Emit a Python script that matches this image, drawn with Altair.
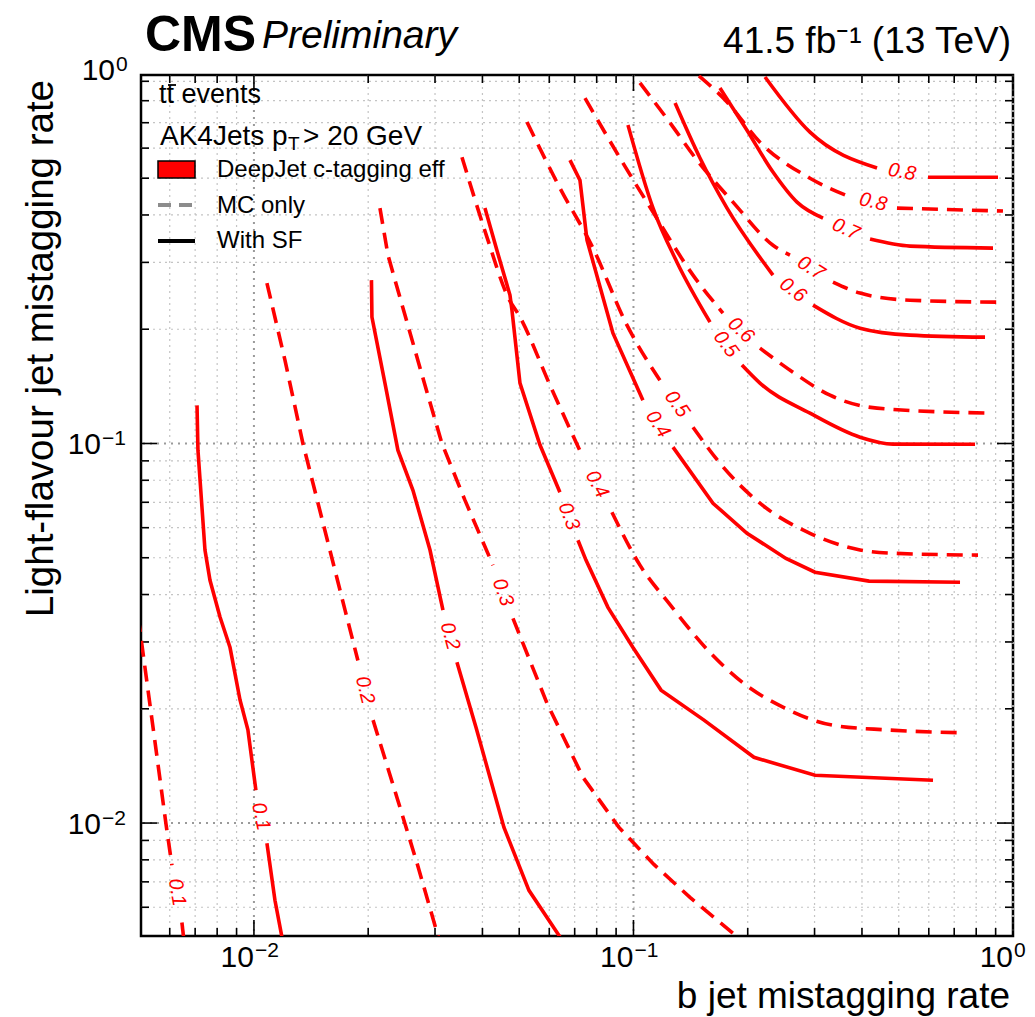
import altair as alt
import pandas as pd

W, H = 872, 861
FONT = "Liberation Sans"
RED = "#ff0000"

# ---------------- axes ----------------
X_DOMAIN = [0.00504, 1.0]
Y_DOMAIN = [0.00504, 0.935]
X_MAJOR = [0.01, 0.1, 1.0]
X_MAJOR_SUP = ["−2", "−1", "0"]
Y_MAJOR = [0.01, 0.1]
Y_MAJOR_SUP = ["−2", "−1"]
Y_TOP_SUP = "0"
MINOR = [0.006, 0.007, 0.008, 0.009,
         0.02, 0.03, 0.04, 0.05, 0.06, 0.07, 0.08, 0.09,
         0.2, 0.3, 0.4, 0.5, 0.6, 0.7, 0.8, 0.9]
X_TITLE = "b jet mistagging rate"
Y_TITLE = "Light-flavour jet mistagging rate"

# ---------------- contours (x = b mistag, y = light mistag); None = label gap ----------------
MC_01 = [[0.00495, 0.0351], [0.00507, 0.0294], [0.00548, 0.0165], [0.00586, 0.0100], [0.00608, 0.00774],
         None, [0.00646, 0.00547], [0.00654, 0.0049]]
SF_01 = [[0.00708, 0.126], [0.00712, 0.096], [0.00743, 0.0524], [0.00766, 0.0436], [0.00814, 0.0349],
         [0.00865, 0.0290], [0.00919, 0.0211], [0.00964, 0.0176], [0.01012, 0.0122],
         None, [0.01082, 0.00885], [0.01136, 0.00626], [0.01190, 0.0049]]
MC_02 = [[0.01082, 0.2646], [0.01207, 0.1658], [0.01346, 0.100], [0.01585, 0.0524], [0.01738, 0.0364],
         [0.01879, 0.0268], None, [0.0206, 0.01867], [0.0238, 0.0117], [0.0269, 0.00784], [0.0308, 0.0049]]
SF_02 = [[0.02040, 0.2694], [0.02046, 0.2153], [0.02214, 0.1442], [0.02395, 0.096], [0.02624, 0.0753],
         [0.0291, 0.0524], [0.03148, 0.0364], None, [0.03427, 0.02654], [0.03846, 0.01787],
         [0.04558, 0.00974], [0.05303, 0.00665], [0.0650, 0.0049]]
MC_03 = [[0.02148, 0.417], [0.02255, 0.3134], [0.025, 0.2179], [0.02822, 0.1425], [0.03129, 0.100],
         [0.03597, 0.0709], [0.04264, 0.0478], None, [0.04814, 0.0346], [0.05916, 0.0207],
         [0.07361, 0.0132], [0.09158, 0.00974], [0.1132, 0.00778], [0.1409, 0.00637],
         [0.1829, 0.00512], [0.1967, 0.00491]]
SF_03 = [[0.04061, 0.417], [0.04367, 0.3228], [0.04727, 0.246], [0.04784, 0.2246], [0.05023, 0.1442],
         [0.05669, 0.0992], [0.064, 0.0744], None, [0.07141, 0.0556], [0.07496, 0.0493],
         [0.08565, 0.037], [0.0997, 0.029], [0.1182, 0.0224], [0.1534, 0.01867], [0.2077, 0.0149],
         [0.3008, 0.01336], [0.6155, 0.01296]]
MC_04 = [[0.03533, 0.568], [0.04111, 0.3497], [0.0467, 0.243], [0.05023, 0.2153], [0.06026, 0.1425],
         [0.07361, 0.092], None, [0.08775, 0.0659], [0.104, 0.0478], [0.1241, 0.0379], [0.1572, 0.0285],
         [0.1955, 0.0233], [0.2476, 0.0202], [0.3355, 0.0181], [0.4628, 0.0176], [0.7295, 0.0173]]
SF_04 = [[0.06804, 0.558], [0.07228, 0.494], [0.07543, 0.3434], [0.0883, 0.1953], [0.1059, 0.130],
         None, [0.1271, 0.0978], [0.162, 0.0696], [0.1991, 0.058], [0.2522, 0.0498], [0.3008, 0.0458],
         [0.4176, 0.0434], [0.7251, 0.0431]]
MC_05 = [[0.05241, 0.703], [0.064, 0.471], [0.07822, 0.3272], [0.09614, 0.205], [0.1174, 0.1468],
         None, [0.1435, 0.1104], [0.169, 0.0887], [0.2154, 0.0696], [0.2918, 0.058], [0.3953, 0.0524],
         [0.4828, 0.0514], [0.8087, 0.0508]]
SF_05 = [[0.09672, 0.690], [0.1126, 0.417], [0.1302, 0.3004], [0.1591, 0.2088], None,
         [0.1931, 0.1609], [0.2154, 0.1442], [0.2918, 0.1202], [0.3953, 0.1039], [0.4828, 0.0996],
         [0.7941, 0.0995]]
MC_06 = [[0.07451, 0.813], [0.09213, 0.565], [0.1126, 0.4071], [0.1435, 0.2777], [0.1721, 0.2205],
         None, [0.2154, 0.1783], [0.2632, 0.1541], [0.3295, 0.134], [0.4383, 0.1239], [0.8699, 0.1202]]
SF_06 = [[0.1287, 0.789], [0.1497, 0.565], [0.1764, 0.417], [0.2331, 0.2777], None,
         [0.2972, 0.2315], [0.3953, 0.2013], [0.5353, 0.193], [0.8439, 0.1906]]
MC_07 = [[0.104, 0.891], [0.1248, 0.700], [0.147, 0.558], [0.1829, 0.4325], [0.2331, 0.333],
         [0.2584, 0.3134], None, [0.3355, 0.2661], [0.3953, 0.249], [0.5353, 0.2385], [0.9075, 0.2357]]
SF_07 = [[0.169, 0.864], [0.1991, 0.669], [0.2331, 0.519], [0.2697, 0.4325], [0.3158, 0.3926],
         None, [0.4201, 0.3455], [0.5353, 0.3311], [0.8858, 0.3272]]
MC_08 = [[0.1488, 0.930], [0.1764, 0.794], [0.2154, 0.622], [0.2918, 0.500], [0.372, 0.446],
         None, [0.4946, 0.417], [0.941, 0.4096]]
SF_08 = [[0.2221, 0.924], [0.2918, 0.661], [0.4383, 0.532], None, [0.5971, 0.503], [0.9131, 0.503]]

# kinked contours are drawn as polylines, the smooth high-efficiency ones with monotone curves
MC_LOW = [MC_01, MC_02, MC_03]
SF_LOW = [SF_01, SF_02, SF_03, SF_04]
MC_HIGH = [MC_04, MC_05, MC_06, MC_07, MC_08]
SF_HIGH = [SF_05, SF_06, SF_07, SF_08]

# contour labels
LABEL_TEXT = ["0.1", "0.1", "0.2", "0.2", "0.3", "0.3", "0.4", "0.4",
              "0.5", "0.5", "0.6", "0.6", "0.7", "0.7", "0.8", "0.8"]
LABEL_X = [0.00627, 0.01043, 0.01961, 0.03285, 0.0453, 0.06761, 0.08013, 0.116,
           0.1302, 0.1753, 0.1919, 0.2632, 0.2936, 0.3631, 0.4278, 0.5099]
LABEL_Y = [0.00657, 0.01041, 0.0224, 0.0311, 0.04056, 0.0643, 0.0781, 0.1124,
           0.127, 0.1827, 0.1989, 0.2537, 0.2898, 0.3671, 0.4325, 0.5189]
LABEL_ANGLE = [80, 78, 76, 75, 70, 69, 62, 57, 55, 53, 43, 37, 32, 24, 13, 10]

# ---------------- build tables ----------------
def to_rows(curves, kind):
    rows = []
    for k, pts in enumerate(curves):
        seg, i = 0, 0
        for p in pts:
            if p is None:
                seg += 1
                continue
            rows.append({"seg": f"{kind}{k}-{seg}", "i": i, "x": p[0], "y": p[1]})
            i += 1
    return pd.DataFrame(rows)

df_lab = pd.DataFrame({"x": LABEL_X, "y": LABEL_Y, "t": LABEL_TEXT, "a": LABEL_ANGLE})
df_xmaj = pd.DataFrame({"v": X_MAJOR, "sup": X_MAJOR_SUP})
df_ymaj = pd.DataFrame({"v": Y_MAJOR, "sup": Y_MAJOR_SUP})
df_min = pd.DataFrame({"v": MINOR})
ONE = pd.DataFrame({"k": [0]})

xs = alt.Scale(type="log", domain=X_DOMAIN, nice=False)
ys = alt.Scale(type="log", domain=Y_DOMAIN, nice=False)


def X(field="v:Q"):
    return alt.X(field, scale=xs, axis=None)


def Y(field="v:Q"):
    return alt.Y(field, scale=ys, axis=None)


layers = []
# grid
layers.append(alt.Chart(df_min).mark_rule(color="#c4c4c4", strokeDash=[2, 4], strokeWidth=1.2).encode(x=X()))
layers.append(alt.Chart(df_min).mark_rule(color="#c4c4c4", strokeDash=[2, 4], strokeWidth=1.2).encode(y=Y()))
layers.append(alt.Chart(df_xmaj).mark_rule(color="#9a9a9a", strokeDash=[2, 5], strokeWidth=2).encode(x=X()))
layers.append(alt.Chart(df_ymaj).mark_rule(color="#9a9a9a", strokeDash=[2, 5], strokeWidth=2).encode(y=Y()))

# inside ticks
TICK = dict(color="black", strokeWidth=1.6)
for df, ln in ((df_xmaj, 16), (df_min, 8)):
    layers.append(alt.Chart(df).mark_rule(**TICK).encode(x=X(), y=alt.value(H), y2=alt.value(H - ln)))
    layers.append(alt.Chart(df).mark_rule(**TICK).encode(x=X(), y=alt.value(0), y2=alt.value(ln)))
for df, ln in ((df_ymaj, 16), (df_min, 8)):
    layers.append(alt.Chart(df).mark_rule(**TICK).encode(y=Y(), x=alt.value(0), x2=alt.value(ln)))
    layers.append(alt.Chart(df).mark_rule(**TICK).encode(y=Y(), x=alt.value(W), x2=alt.value(W - ln)))

# tick labels "10" + superscript exponent
LAB = dict(font=FONT, color="black", baseline="alphabetic")
layers.append(alt.Chart(df_xmaj).mark_text(text="10", fontSize=30, align="right", **LAB).encode(
    x=X(), y=alt.value(H + 31)))
layers.append(alt.Chart(df_xmaj).mark_text(fontSize=21, align="left", dx=1, **LAB).encode(
    x=X(), y=alt.value(H + 21), text="sup:N"))
layers.append(alt.Chart(df_ymaj).mark_text(text="10", fontSize=30, align="right", dy=11, **LAB).encode(
    y=Y(), x=alt.value(-40)))
layers.append(alt.Chart(df_ymaj).mark_text(fontSize=21, align="left", dy=2, **LAB).encode(
    y=Y(), x=alt.value(-39), text="sup:N"))

# contours
for curves, interp in ((MC_LOW, "linear"), (MC_HIGH, "monotone")):
    layers.append(alt.Chart(to_rows(curves, "MC")).mark_line(
        color=RED, strokeWidth=3.6, strokeDash=[16, 9], clip=True, interpolate=interp).encode(
        x=X("x:Q"), y=Y("y:Q"), detail="seg:N", order="i:Q"))
for curves, interp in ((SF_LOW, "linear"), (SF_HIGH, "monotone")):
    layers.append(alt.Chart(to_rows(curves, "SF")).mark_line(
        color=RED, strokeWidth=3.6, clip=True, interpolate=interp).encode(
        x=X("x:Q"), y=Y("y:Q"), detail="seg:N", order="i:Q"))
layers.append(alt.Chart(df_lab).mark_text(color=RED, font=FONT, fontSize=20, fontStyle="italic",
                                          align="center", baseline="middle").encode(
    x=X("x:Q"), y=Y("y:Q"), text="t:N", angle=alt.Angle("a:Q", scale=None)))


def txt(s, x, y, size, **kw):
    opts = dict(text=s, fontSize=size, font=FONT, color="black", align="left", baseline="alphabetic")
    opts.update(kw)
    return alt.Chart(ONE).mark_text(**opts).encode(x=alt.value(x), y=alt.value(y))


# titles / annotations
layers += [
    txt("CMS", 4, -24, 50, fontWeight="bold"),
    txt("Preliminary", 121, -27, 39, fontStyle="italic"),
    txt("41.5 fb⁻¹ (13 TeV)", 870, -22, 37, align="right"),
    txt(Y_TITLE, -88, 5, 38.5, angle=270, align="right"),
    txt(X_TITLE, 869, 933, 37, align="right"),
    txt("10", -26, 5, 30, align="right"),
    txt(Y_TOP_SUP, -25, -4, 21),
    txt("tt events", 18, 28, 27),
    txt("AK4Jets p", 19, 70, 28),
    txt("T", 147, 75, 19),
    txt("> 20 GeV", 162, 70, 28),
    txt("DeepJet c-tagging eff", 76, 102, 24),
    txt("MC only", 76, 138, 24),
    txt("With SF", 76, 173, 24),
]
# bar over the second t (anti-top)
layers.append(alt.Chart(ONE).mark_rule(color="black", strokeWidth=1.8).encode(
    x=alt.value(27), x2=alt.value(35), y=alt.value(10)))
# legend symbols
layers.append(alt.Chart(ONE).mark_rect(color=RED, stroke="black", strokeWidth=1.5).encode(
    x=alt.value(17), x2=alt.value(54), y=alt.value(86), y2=alt.value(103)))
layers.append(alt.Chart(ONE).mark_rule(color="#8c8c8c", strokeWidth=4, strokeDash=[13, 8]).encode(
    x=alt.value(17), x2=alt.value(54), y=alt.value(130)))
layers.append(alt.Chart(ONE).mark_rule(color="black", strokeWidth=4).encode(
    x=alt.value(17), x2=alt.value(54), y=alt.value(166)))

chart = alt.layer(*layers).properties(
    width=W, height=H,
    autosize=alt.AutoSizeParams(type="none"),
    padding={"left": 141, "top": 75, "right": 22, "bottom": 81},
    background="white",
).configure_view(stroke="black", strokeWidth=2.5)

chart.save("out.html", embed_options={"renderer": "svg", "actions": False})
